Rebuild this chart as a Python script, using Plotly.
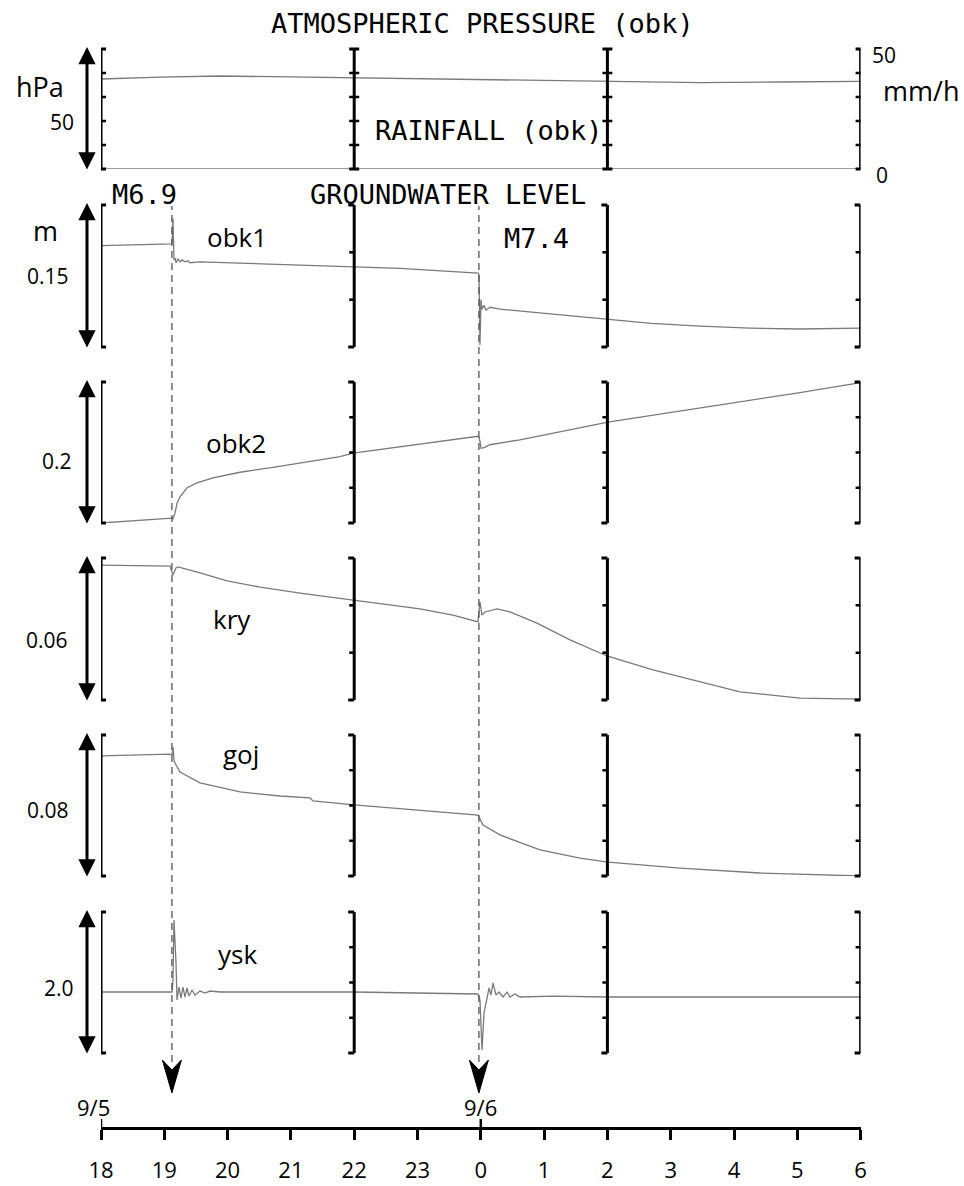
import plotly.graph_objects as go

W, H = 964, 1186

# ---------------- data (hours since 9/5 00:00; 24 = 9/6 0:00) ----------------
quake_t = [19.12, 23.97]
quake_lbl = ["M6.9", "M7.4"]

pres_t = [18.0, 18.93, 19.88, 21.14, 22.0, 22.72, 23.99, 24.94, 26.01, 27.46, 28.7, 30.0]
pres = [1007.5, 1008.3, 1008.75, 1008.3, 1007.9, 1007.5, 1007.1, 1006.7, 1006.25, 1006.0, 1006.25, 1006.5]

rain_t = [18, 19, 20, 21, 22, 23, 24, 25, 26, 27, 28, 29, 30]
rain = [0, 0, 0, 0, 0, 0, 0, 0, 0, 0, 0, 0, 0]

obk1_t = [18.0, 19.09, 19.122, 19.137, 19.153, 19.169, 19.185, 19.216, 19.248, 19.28, 19.327,
          19.374, 19.406, 19.564, 20.038, 21.144, 21.997, 22.724, 23.956, 23.972, 23.987, 24.003,
          24.019, 24.051, 24.082, 24.145, 24.303, 24.619, 25.251, 25.883, 26.009, 26.693, 27.463,
          28.253, 29.043, 30.0]
obk1 = [0.107, 0.109, 0.109, 0.136, 0.092, 0.094, 0.089, 0.093, 0.090, 0.092, 0.090,
        0.091, 0.089, 0.090, 0.089, 0.087, 0.085, 0.083, 0.078, 0.076, 0.002, 0.050,
        0.040, 0.044, 0.039, 0.042, 0.040, 0.038, 0.034, 0.030, 0.029, 0.025, 0.022,
        0.020, 0.019, 0.020]

obk2_t = [18.0, 19.122, 19.137, 19.169, 19.201, 19.248, 19.359, 19.517, 19.769, 20.196, 20.717,
          21.254, 21.776, 21.981, 23.956, 23.972, 23.987, 24.003, 24.051, 24.145, 24.619, 26.009,
          27.463, 29.043, 30.0]
obk2 = [0.000, 0.007, 0.006, 0.014, 0.028, 0.037, 0.050, 0.057, 0.064, 0.072, 0.079,
        0.087, 0.094, 0.099, 0.123, 0.121, 0.116, 0.106, 0.107, 0.111, 0.118, 0.143,
        0.163, 0.185, 0.199]

kry_t = [18.0, 19.09, 19.137, 19.185, 19.216, 19.564, 19.991, 20.512, 21.144, 21.997, 23.039,
         23.561, 23.956, 23.987, 24.019, 24.066, 24.256, 24.461, 24.888, 25.409, 25.994, 26.72,
         27.51, 28.095, 29.043, 30.0]
kry = [0.0570, 0.0566, 0.0528, 0.0558, 0.0562, 0.0537, 0.0503, 0.0477, 0.0452, 0.0423, 0.0385,
       0.0359, 0.0330, 0.0414, 0.0359, 0.0372, 0.0385, 0.0372, 0.0325, 0.0254, 0.0186, 0.0127,
       0.0072, 0.0034, 0.0008, 0.0004]

goj_t = [18.0, 19.09, 19.122, 19.137, 19.153, 19.169, 19.248, 19.564, 20.196, 20.828, 21.302,
         21.349, 21.997, 23.956, 24.035, 24.303, 24.935, 25.567, 26.009, 27.147, 28.411, 30.0]
goj = [0.0681, 0.0692, 0.0687, 0.0732, 0.0658, 0.0641, 0.0590, 0.0528, 0.0477, 0.0454, 0.0443,
       0.0426, 0.0403, 0.0346, 0.0289, 0.0233, 0.0148, 0.0102, 0.0079, 0.0045, 0.0017, 0.0]

ysk_t = [18.0, 19.122, 19.137, 19.153, 19.185, 19.201, 19.232, 19.264, 19.295, 19.327, 19.359,
         19.39, 19.438, 19.485, 19.564, 19.643, 19.722, 19.88, 21.997, 23.039, 23.956, 23.987,
         24.019, 24.051, 24.098, 24.13, 24.161, 24.193, 24.24, 24.287, 24.351, 24.414, 24.461,
         24.54, 24.619, 25.141, 25.994, 28.095, 29.5, 30.0]
ysk = [0.865, 0.865, 1.035, 1.886, 1.277, 0.752, 0.936, 0.780, 0.936, 0.794, 0.922,
       0.808, 0.894, 0.823, 0.879, 0.851, 0.879, 0.865, 0.865, 0.851, 0.837, 0.752,
       0.043, 0.567, 0.794, 0.922, 0.823, 0.993, 0.823, 0.865, 0.794, 0.865, 0.794,
       0.837, 0.794, 0.808, 0.794, 0.794, 0.800, 0.794]

hour_vals = [18, 19, 20, 21, 22, 23, 24, 25, 26, 27, 28, 29, 30]
hour_text = ["18", "19", "20", "21", "22", "23", "0", "1", "2", "3", "4", "5", "6"]
bracket_hours = [18, 22, 26, 30]

MONO = "DejaVu Sans Mono"
SANS = "Open Sans"
LINE = dict(color="#7a7a7a", width=1.3)


def X(px):
    return px / W


def Y(py):
    return 1 - py / H


# panels: axis, top px, bottom px, intervals, range
panels = [
    ("y", 49, 169, 5, [970, 1020]),
    ("y3", 205, 347, 3, [0, 0.15]),
    ("y4", 382, 523, 4, [0, 0.2]),
    ("y5", 558, 700, 3, [0, 0.06]),
    ("y6", 735, 876, 4, [0, 0.08]),
    ("y7", 912, 1053, 4, [0, 2.0]),
]

fig = go.Figure()
series = [(pres_t, pres, "y"), (rain_t, rain, "y2"), (obk1_t, obk1, "y3"), (obk2_t, obk2, "y4"),
          (kry_t, kry, "y5"), (goj_t, goj, "y6"), (ysk_t, ysk, "y7")]
for t, v, ax in series:
    fig.add_trace(go.Scatter(x=t, y=v, xaxis="x", yaxis=ax, mode="lines", line=LINE,
                             showlegend=False, hoverinfo="skip"))

layout = dict(
    width=W, height=H, margin=dict(l=0, r=0, t=0, b=0, pad=0), autosize=False,
    paper_bgcolor="white", plot_bgcolor="white", showlegend=False,
    xaxis=dict(domain=[101 / W, 860.6 / W], range=[18, 30], anchor="free", position=Y(1128),
               automargin=False,
               showline=True, linecolor="black", linewidth=3, ticks="outside", ticklen=10,
               tickwidth=2.5, tickcolor="black", tickvals=hour_vals, ticktext=hour_text,
               tickfont=dict(family=SANS, size=22, color="black"), ticklabelstandoff=12,
               showgrid=False, zeroline=False, fixedrange=True),
    yaxis2=dict(overlaying="y", range=[0, 50], visible=False, fixedrange=True, automargin=False),
)
for ax, top, bot, n, rng in panels:
    key = "yaxis" if ax == "y" else "yaxis" + ax[1:]
    layout[key] = dict(domain=[Y(bot), Y(top)], range=rng, visible=False, fixedrange=True,
                       anchor="x", automargin=False)
fig.update_layout(**layout)

shapes = []
BL = dict(color="black", width=3)
TL = dict(color="black", width=2.5)
for ax, top, bot, n, rng in panels:
    ref = ax + " domain"
    for i, bx in enumerate(bracket_hours):
        shapes.append(dict(type="line", xref="x", yref=ref, x0=bx, x1=bx, y0=0, y1=1, line=BL))
        if ax == "y":
            cap, tk = (-5, 5), (-5, 5)
        elif i == 0:
            cap, tk = (0, 5), (-5, 0)
        else:
            cap, tk = (-6, 0), (-5, 0)
        for yy in (0, 1):
            shapes.append(dict(type="line", xref="x", xsizemode="pixel", xanchor=bx,
                               x0=cap[0], x1=cap[1], yref=ref, y0=yy, y1=yy, line=BL))
        for k in range(1, n):
            shapes.append(dict(type="line", xref="x", xsizemode="pixel", xanchor=bx,
                               x0=tk[0], x1=tk[1], yref=ref, y0=k / n, y1=k / n, line=TL))

# earthquake dashed lines and arrowheads
for qt in quake_t:
    shapes.append(dict(type="line", xref="x", yref="paper", x0=qt, x1=qt, y0=Y(1062), y1=Y(206),
                       line=dict(color="#555555", width=1.3, dash="7px,5px")))
    shapes.append(dict(type="path", xref="x", xsizemode="pixel", xanchor=qt,
                       yref="paper", ysizemode="pixel", yanchor=Y(1093),
                       path="M0,0 L-9.5,33 L0,23 L9.5,33 Z",
                       fillcolor="black", line=dict(color="black", width=1)))
# extended ticks on time axis at 18 and 0
for hx in (18, 24):
    shapes.append(dict(type="line", xref="x", yref="paper", x0=hx, x1=hx, y0=Y(1119), y1=Y(1128),
                       line=TL))
fig.update_layout(shapes=shapes)

# double-headed scale arrows
for ax, top, bot, n, rng in panels:
    fig.add_annotation(x=X(87), y=Y(top - 2), xref="paper", yref="paper", text="",
                       showarrow=True, ax=0, ay=(bot - top) + 4, axref="pixel", ayref="pixel",
                       arrowhead=2, arrowside="end+start", arrowwidth=3, arrowsize=1.15,
                       arrowcolor="black", standoff=0, startstandoff=0)

texts = [
    ("ATMOSPHERIC PRESSURE (obk)", 482, 24, MONO, 27),
    ("RAINFALL (obk)", 489, 131, MONO, 27),
    ("GROUNDWATER LEVEL", 448, 194, MONO, 27),
    (quake_lbl[0], 144, 194, MONO, 27),
    (quake_lbl[1], 536, 238, MONO, 27),
    ("hPa", 40, 86, SANS, 27),
    ("50", 62, 122, SANS, 21),
    ("50", 884, 55, SANS, 21),
    ("mm/h", 921, 91, SANS, 27),
    ("0", 882, 175, SANS, 21),
    ("m", 45, 230, SANS, 27),
    ("0.15", 48, 276, SANS, 21),
    ("obk1", 237, 237, SANS, 26),
    ("0.2", 57, 461, SANS, 21),
    ("obk2", 236, 443, SANS, 26),
    ("0.06", 47, 640, SANS, 21),
    ("kry", 232, 619, SANS, 26),
    ("0.08", 48, 810, SANS, 21),
    ("goj", 241, 754, SANS, 26),
    ("2.0", 59, 988, SANS, 21),
    ("ysk", 237, 954, SANS, 26),
    ("9/5", 93, 1107, SANS, 22),
    ("9/6", 480, 1107, SANS, 22),
]
for txt, px, py, fam, sz in texts:
    fig.add_annotation(x=X(px), y=Y(py), xref="paper", yref="paper", text=txt, showarrow=False,
                       xanchor="center", yanchor="middle",
                       font=dict(family=fam, size=sz, color="black"))

fig.write_html("out.html")
